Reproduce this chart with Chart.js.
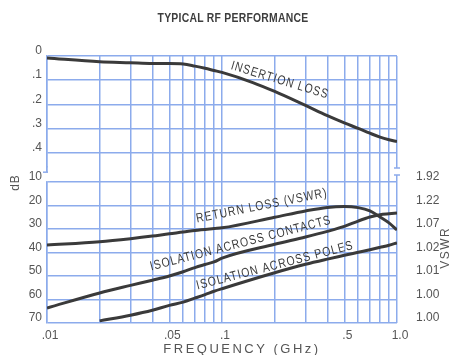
<!DOCTYPE html>
<html>
<head>
<meta charset="utf-8">
<title>Typical RF Performance</title>
<script src="https://cdn.jsdelivr.net/npm/chart.js@4.4.1/dist/chart.umd.min.js"></script>
<style>
  html, body { margin: 0; padding: 0; background: #fff; }
  canvas { display: block; }
</style>
</head>
<body>
<canvas id="rfChart" width="451" height="355"></canvas>
<script>
// Insertion loss (upper scale, dB)
const ilFreq = [0.01, 0.02, 0.03, 0.04, 0.05, 0.06, 0.07, 0.08, 0.09, 0.1, 0.15, 0.2, 0.3, 0.4, 0.5, 0.6, 0.7, 0.8, 0.9, 1.0];
const ilLoss = [0.008, 0.024, 0.028, 0.031, 0.031, 0.033, 0.042, 0.051, 0.06, 0.068, 0.11, 0.147, 0.205, 0.247, 0.277, 0.30, 0.32, 0.336, 0.347, 0.355];

// Return loss (lower scale, dB)
const rlFreq = [0.01, 0.02, 0.03, 0.04, 0.05, 0.06, 0.07, 0.09, 0.1, 0.2, 0.3, 0.4, 0.5, 0.6, 0.7, 0.8, 0.9, 1.0];
const rlLoss = [36.8, 35.4, 34.1, 33.0, 32.0, 31.3, 30.6, 29.8, 29.5, 25.0, 22.3, 20.8, 20.4, 20.9, 22.3, 24.9, 27.4, 30.4];

// Isolation across contacts
const iccFreq = [0.01, 0.02, 0.03, 0.04, 0.05, 0.06, 0.07, 0.08, 0.09, 0.1, 0.2, 0.3, 0.4, 0.5, 0.6, 0.7, 0.8, 0.9, 1.0];
const iccLoss = [63.6, 57.2, 54.0, 51.8, 50.0, 48.2, 46.4, 45.1, 44.0, 42.4, 36.5, 33.4, 31.0, 28.9, 26.6, 24.9, 23.9, 23.5, 23.2];

// Isolation across poles
const icpFreq = [0.02, 0.03, 0.04, 0.05, 0.06, 0.07, 0.08, 0.09, 0.1, 0.2, 0.3, 0.4, 0.5, 0.6, 0.7, 0.8, 0.9, 1.0];
const icpLoss = [69.1, 66.7, 64.6, 62.5, 61.1, 59.4, 57.9, 56.5, 55.4, 48.6, 45.0, 42.8, 41.2, 39.9, 38.8, 37.8, 36.9, 35.9];

// Axes
const xGridValues = [0.01, 0.02, 0.03, 0.04, 0.05, 0.06, 0.07, 0.08, 0.09, 0.1, 0.2, 0.3, 0.4, 0.5, 0.6, 0.7, 0.8, 0.9, 1.0];
const xLabelValues = [0.01, 0.05, 0.1, 0.5, 1.0];
const xLabelTexts = ['.01', '.05', '.1', '.5', '1.0'];
const ilTickValues = [0, 0.1, 0.2, 0.3, 0.4];
const ilTickLabels = ['0', '.1', '.2', '.3', '.4'];
const dbTickValues = [10, 20, 30, 40, 50, 60, 70];
const dbTickLabels = ['10', '20', '30', '40', '50', '60', '70'];
const vswrTickLabels = ['1.92', '1.22', '1.07', '1.02', '1.01', '1.00', '1.00'];

// Curve captions, placed in data coordinates
const captionText = ['INSERTION LOSS', 'RETURN LOSS (VSWR)', 'ISOLATION ACROSS CONTACTS', 'ISOLATION ACROSS POLES'];
const captionFreq = [0.214, 0.169, 0.128, 0.201];
const captionValue = [0.101, 20.2, 36.2, 45.6];
const captionAxis = ['yIL', 'yDB', 'yDB', 'yDB'];
const captionAngle = [17, -11.3, -14.6, -14.6];

const gridBlue = '#8cabec';
const inkGray = '#3a3a3a';
const labelGray = '#555';
const tickFont = { family: "'Liberation Sans', Arial, sans-serif", size: 12 };

const toPoints = (xs, ys) => xs.map((f, i) => ({ x: f, y: ys[i] }));

const curveStyle = {
  borderColor: inkGray,
  borderWidth: 3,
  pointRadius: 0,
  fill: false,
  cubicInterpolationMode: 'monotone'
};

function drawText(ctx, text, px, py, angle, font, color, squeeze, spacing) {
  ctx.save();
  ctx.translate(px, py);
  ctx.rotate(angle * Math.PI / 180);
  ctx.scale(squeeze, 1);
  ctx.font = font;
  ctx.letterSpacing = spacing;
  ctx.fillStyle = color;
  ctx.textAlign = 'center';
  ctx.textBaseline = 'middle';
  ctx.fillText(text, 0, 0);
  ctx.restore();
}

const decorations = {
  id: 'decorations',
  afterDraw(chart) {
    const { ctx, chartArea, scales } = chart;
    const midX = (chartArea.left + chartArea.right) / 2;

    // title
    drawText(ctx, 'TYPICAL RF PERFORMANCE', midX + 11, 18, 0,
      "bold 13px 'Liberation Sans', Arial, sans-serif", '#3d3d3d', 0.8, '0.3px');

    // axis titles
    drawText(ctx, 'FREQUENCY (GHz)', midX + 20, 349, 0,
      "13px 'Liberation Sans', Arial, sans-serif", labelGray, 1, '2.5px');
    drawText(ctx, 'dB', 16, (chartArea.top + chartArea.bottom) / 2 - 7, -90,
      "12px 'Liberation Sans', Arial, sans-serif", labelGray, 1, '1px');
    drawText(ctx, 'VSWR', chart.width - 5, scales.yV.getPixelForValue(38), -90,
      "12px 'Liberation Sans', Arial, sans-serif", labelGray, 1, '1.5px');

    // curve captions
    captionText.forEach((t, i) => {
      const px = scales.x.getPixelForValue(captionFreq[i]);
      const py = scales[captionAxis[i]].getPixelForValue(captionValue[i]);
      drawText(ctx, t, px, py, captionAngle[i],
        "13px 'Liberation Sans', Arial, sans-serif", '#3c3c3c', 0.8, '1.3px');
    });

    // axis breaks
    const yDB = scales.yDB;
    ctx.save();
    ctx.fillStyle = '#fff';
    ctx.strokeStyle = gridBlue;
    ctx.lineWidth = 1.5;
    const l = chartArea.left;
    const lTop = yDB.getPixelForValue(5.8);
    const lBot = yDB.getPixelForValue(9.6);
    ctx.fillRect(l - 3, lTop, 6, lBot - lTop);
    ctx.beginPath();
    ctx.moveTo(l - 4, lTop);
    ctx.lineTo(l + 1, lTop);
    ctx.stroke();

    const r = chartArea.right;
    const rTop = yDB.getPixelForValue(4.0);
    const rBot = yDB.getPixelForValue(7.0);
    ctx.fillRect(r - 3, rTop, 6, rBot - rTop);
    ctx.beginPath();
    ctx.moveTo(r - 3, rTop);
    ctx.lineTo(r + 3, rTop);
    ctx.moveTo(r - 3, rBot);
    ctx.lineTo(r + 3, rBot);
    ctx.stroke();
    ctx.restore();
  }
};

const yGrid = { color: gridBlue, lineWidth: 1.5, drawTicks: false };

new Chart(document.getElementById('rfChart').getContext('2d'), {
  type: 'line',
  data: {
    datasets: [
      { label: 'Insertion Loss', data: toPoints(ilFreq, ilLoss), yAxisID: 'yIL', ...curveStyle },
      { label: 'Return Loss (VSWR)', data: toPoints(rlFreq, rlLoss), yAxisID: 'yDB', ...curveStyle },
      { label: 'Isolation Across Contacts', data: toPoints(iccFreq, iccLoss), yAxisID: 'yDB', ...curveStyle },
      { label: 'Isolation Across Poles', data: toPoints(icpFreq, icpLoss), yAxisID: 'yDB', ...curveStyle }
    ]
  },
  options: {
    responsive: false,
    animation: false,
    layout: { padding: { top: 56, left: 0, right: 0, bottom: 0 } },
    plugins: {
      legend: { display: false },
      tooltip: { enabled: false }
    },
    scales: {
      x: {
        type: 'logarithmic',
        min: 0.01,
        max: 1.0,
        afterBuildTicks: (s) => { s.ticks = xGridValues.map(v => ({ value: v })); },
        afterFit: (s) => { s.height = 32; },
        grid: { color: gridBlue, lineWidth: 1.5, drawTicks: false },
        border: { display: false },
        ticks: {
          autoSkip: false,
          maxRotation: 0,
          padding: 5,
          labelOffset: 3,
          font: tickFont,
          color: labelGray,
          callback: (v) => {
            const i = xLabelValues.findIndex(lv => Math.abs(lv - v) < 1e-9);
            return i >= 0 ? xLabelTexts[i] : '';
          }
        }
      },
      // left stack is laid out bottom-up, so the lower dB scale comes first
      yDB: {
        type: 'linear',
        position: 'left',
        stack: 'left',
        stackWeight: 156,
        reverse: true,
        min: 3.6,
        max: 70,
        afterBuildTicks: (s) => { s.ticks = dbTickValues.map(v => ({ value: v })); },
        afterFit: (s) => { s.width = 47; },
        grid: yGrid,
        border: { color: gridBlue, width: 1.5 },
        ticks: {
          autoSkip: false,
          padding: 5,
          labelOffset: -5,
          font: tickFont,
          color: labelGray,
          callback: (v, i) => dbTickLabels[i]
        }
      },
      yIL: {
        type: 'linear',
        position: 'left',
        stack: 'left',
        stackWeight: 111,
        reverse: true,
        min: 0,
        max: 0.46,
        afterBuildTicks: (s) => { s.ticks = ilTickValues.map(v => ({ value: v })); },
        afterFit: (s) => { s.width = 47; },
        grid: yGrid,
        border: { color: gridBlue, width: 1.5 },
        ticks: {
          autoSkip: false,
          padding: 5,
          labelOffset: -5,
          font: tickFont,
          color: labelGray,
          callback: (v, i) => ilTickLabels[i]
        }
      },
      yR1: {
        type: 'linear',
        position: 'right',
        stack: 'right',
        stackWeight: 111,
        reverse: true,
        min: 0,
        max: 0.46,
        afterFit: (s) => { s.width = 54; },
        grid: { display: false },
        border: { display: false },
        ticks: { display: false }
      },
      yV: {
        type: 'linear',
        position: 'right',
        stack: 'right',
        stackWeight: 156,
        reverse: true,
        min: 3.6,
        max: 70,
        afterBuildTicks: (s) => { s.ticks = dbTickValues.map(v => ({ value: v })); },
        afterFit: (s) => { s.width = 54; },
        grid: { display: false },
        border: { display: false },
        ticks: {
          autoSkip: false,
          padding: 11,
          labelOffset: -5,
          font: tickFont,
          color: labelGray,
          callback: (v, i) => vswrTickLabels[i]
        }
      }
    }
  },
  plugins: [decorations]
});
</script>
</body>
</html>
